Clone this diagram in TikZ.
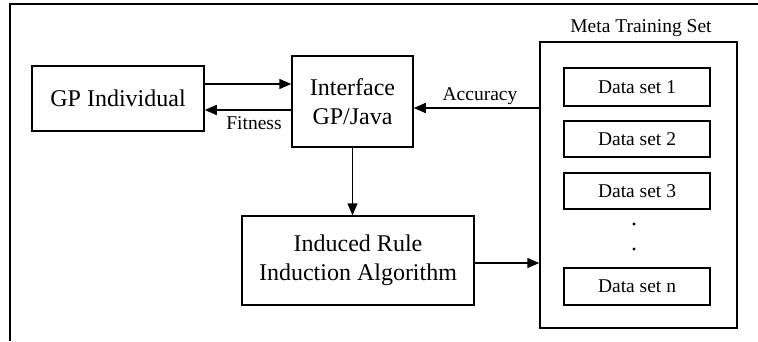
\documentclass[tikz,border=0pt]{standalone}
\usepackage{fontspec}
\setmainfont{Liberation Serif}
\usetikzlibrary{arrows.meta}
\begin{document}
\begin{tikzpicture}[x=1pt,y=-1pt,
  box/.style={draw,line width=1.5pt,inner sep=0pt,align=center,font=\fontsize{24}{29}\selectfont},
  dbox/.style={draw,line width=1.5pt,inner sep=0pt,minimum width=146pt,font=\fontsize{19.5}{23}\selectfont},
  small/.style={font=\fontsize{19.5}{23}\selectfont,inner sep=0pt},
  arr/.style={line width=1.5pt,-{Triangle[length=12pt,width=10pt]}}]
\useasboundingbox (0,0) rectangle (758,341);
\draw[line width=2pt] (10,341) -- (10,4) -- (758,4);
\node[box,minimum width=172pt,minimum height=65pt] (gp) at (118,98.5) {GP Individual};
\node[box,minimum width=121pt,minimum height=91pt] (iface) at (352.5,101.5) {Interface\\GP/Java};
\node[box,minimum width=232pt,minimum height=89pt] (ind) at (358,260.5) {Induced Rule\\Induction Algorithm};
\node[draw,line width=1.5pt,minimum width=197pt,minimum height=286pt,inner sep=0pt] (meta) at (638.5,185) {};
\node[small] (metal) at (641,28) {Meta Training Set};
\node[dbox,minimum height=38pt] (d1) at (637,87) {Data set 1};
\node[dbox,minimum height=36pt] (d2) at (637,139) {Data set 2};
\node[dbox,minimum height=36pt] (d3) at (637,191) {Data set 3};
\node[dbox,minimum height=37pt] (dn) at (637,286.5) {Data set n};
\fill (634,224) circle (1.6pt) (634,249) circle (1.6pt);
\draw[arr] (gp.east |- 0,84) -- (iface.west |- 0,84);
\draw[arr] (iface.west |- 0,110) -- (gp.east |- 0,110);
\node[small] (fit) at (254,123) {Fitness};
\draw[arr] (meta.west |- 0,108) -- (iface.east |- 0,108);
\node[small] (acc) at (480,96) {Accuracy};
\draw[arr] (iface.south) -- (iface.south |- ind.north);
\draw[arr] (ind.east |- 0,263) -- (meta.west |- 0,263);
\end{tikzpicture}
\end{document}
